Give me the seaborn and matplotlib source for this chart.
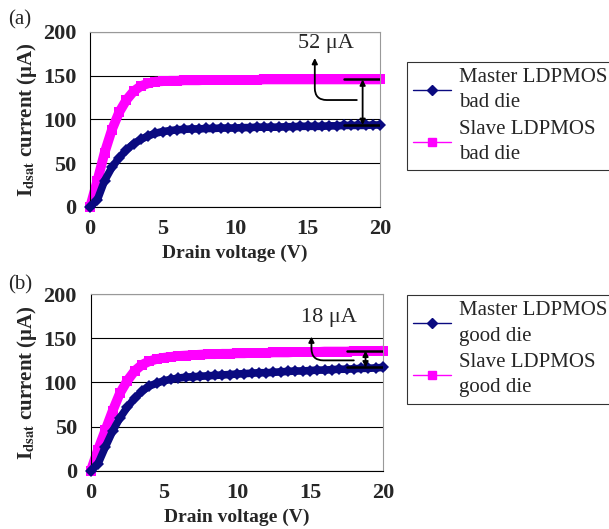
import numpy as np
import pandas as pd
import matplotlib
matplotlib.use("Agg")
import matplotlib.pyplot as plt
from matplotlib.lines import Line2D
import seaborn as sns

# drain voltage sweep (V)
voltage = [i * 0.5 for i in range(41)]

# (a) bad die
master_bad = [0, 8, 30, 45, 56, 65, 72, 77, 81, 84, 86, 87, 88, 88.5, 89, 89, 89.5,
              89.5, 90, 90, 90, 90.5, 90.5, 91, 91, 91, 91, 91.5, 91.5, 92, 92, 92,
              92, 92.5, 92.5, 93, 93, 93, 93, 93.5, 93.5]
slave_bad = [0, 30, 62, 88, 108, 122, 132, 138, 141, 143, 143.5, 144, 144, 144.5,
             144.5, 144.5, 145, 145, 145, 145, 145, 145, 145, 145, 145.5, 145.5,
             145.5, 145.5, 145.5, 145.5, 145.5, 145.5, 145.5, 145.5, 145.5, 145.5,
             145.5, 145.5, 145.5, 145.5, 145.5]

# (b) good die
master_good = [0, 8, 27, 45, 60, 72, 82, 90, 96, 99, 102, 103.5, 105, 106, 106.5,
               107, 107.5, 108, 108.5, 109, 109.5, 110, 110.5, 111, 111, 111.5, 112,
               112.5, 113, 113, 113.5, 114, 114, 114.5, 115, 115, 115.5, 116, 116,
               116.5, 117]
slave_good = [0, 24, 46, 68, 88, 102, 113, 120, 124, 126.5, 128, 129, 130, 130.5,
              131, 131.5, 132, 132, 132.5, 132.5, 133, 133, 133.5, 133.5, 133.5, 134,
              134, 134, 134.5, 134.5, 134.5, 134.5, 135, 135, 135, 135, 135.5, 135.5,
              135.5, 135.5, 136]

labels_a = ["Master LDPMOS\nbad die", "Slave LDPMOS\nbad die"]
labels_b = ["Master LDPMOS\ngood die", "Slave LDPMOS\ngood die"]
gap_labels = ["52 μA", "18 μA"]

NAVY = "#0a0a80"
MAGENTA = "#ff00ff"

sns.set_style("white")
plt.rcParams["font.family"] = ["Liberation Serif", "DejaVu Serif"]
plt.rcParams["mathtext.fontset"] = "stix"

fig = plt.figure(figsize=(6.09, 5.29), dpi=100)
ax_a = fig.add_axes([0.148, 0.609, 0.476, 0.331])
ax_b = fig.add_axes([0.149, 0.110, 0.480, 0.334])


def draw_panel(ax, master, slave, labels, gap_text, text_xy, arrow_start, arrow_end,
               legend_anchor):
    df = pd.DataFrame({
        "V": voltage * 2,
        "I": master + slave,
        "series": ["master"] * len(voltage) + ["slave"] * len(voltage),
    })
    # the original trace is made of hundreds of overlapping markers: draw it as a band
    sns.lineplot(data=df[df.series == "master"], x="V", y="I", color=NAVY,
                 marker="D", markersize=6, markeredgewidth=0, linewidth=5.5,
                 legend=False, ax=ax, zorder=3, clip_on=False)
    sns.lineplot(data=df[df.series == "slave"], x="V", y="I", color=MAGENTA,
                 marker="s", markersize=7, markeredgewidth=0, linewidth=7,
                 legend=False, ax=ax, zorder=2, clip_on=False)

    ax.set_xlim(0, 20)
    ax.set_ylim(0, 200)
    ax.set_xticks([0, 5, 10, 15, 20])
    ax.set_yticks([0, 50, 100, 150, 200])
    ax.yaxis.grid(True, color="black", linewidth=0.8)
    ax.set_axisbelow(True)
    for side in ["top", "right"]:
        ax.spines[side].set_color("#999999")
    for side in ["left", "bottom"]:
        ax.spines[side].set_color("black")
    ax.tick_params(axis="x", direction="in", length=5, color="black",
                   labelsize=16, pad=9)
    ax.tick_params(axis="y", length=0, labelsize=16, pad=10)
    for t in ax.get_xticklabels() + ax.get_yticklabels():
        t.set_fontweight("bold")
    ax.set_xlabel("Drain voltage (V)", fontsize=14, fontweight="bold", labelpad=4)
    ax.set_ylabel(r"I$_{\mathbf{dsat}}$ current (μA)", fontsize=15,
                  fontweight="bold", labelpad=3)

    # gap marker bars and arrows
    hi, lo = slave[-1], master[-1]
    ax.plot([17.5, 20], [hi, hi], color="black", lw=1.8, zorder=4)
    ax.plot([17.5, 20], [lo, lo], color="black", lw=1.8, zorder=4)
    ax.annotate("", xy=(18.8, lo), xytext=(18.8, hi),
                arrowprops=dict(arrowstyle="<|-|>", color="black", lw=1.3,
                                mutation_scale=8, shrinkA=0, shrinkB=0), zorder=5)
    ax.annotate("", xy=arrow_end, xytext=arrow_start,
                arrowprops=dict(arrowstyle="-|>", color="black", lw=1.3,
                                mutation_scale=8, shrinkA=0, shrinkB=0,
                                connectionstyle="angle,angleA=0,angleB=90,rad=12"),
                zorder=5)
    ax.text(text_xy[0], text_xy[1], gap_text, fontsize=16, ha="center", va="center")

    handles = [
        Line2D([], [], color=NAVY, lw=1, marker="D", markersize=5),
        Line2D([], [], color=MAGENTA, lw=1, marker="s", markersize=6),
    ]
    leg = fig.legend(handles, labels, loc="upper left", bbox_to_anchor=legend_anchor,
                     fontsize=15, frameon=True, fancybox=False, edgecolor="black",
                     handlelength=1.8, handletextpad=0.4, borderpad=0.3,
                     labelspacing=0.35, borderaxespad=0)
    for t in leg.get_texts():
        t.set_linespacing(1.45)
    leg.get_frame().set_linewidth(0.8)


draw_panel(ax_a, master_bad, slave_bad, labels_a, gap_labels[0], (16.3, 187),
           (18.4, 122), (15.5, 170), (0.668, 0.883))
draw_panel(ax_b, master_good, slave_good, labels_b, gap_labels[1], (16.3, 173),
           (18.0, 125), (15.1, 152), (0.668, 0.442))

fig.text(0.013, 0.962, "(a)", fontsize=15, va="center")
fig.text(0.013, 0.462, "(b)", fontsize=15, va="center")

fig.savefig("out.png", dpi=100)
